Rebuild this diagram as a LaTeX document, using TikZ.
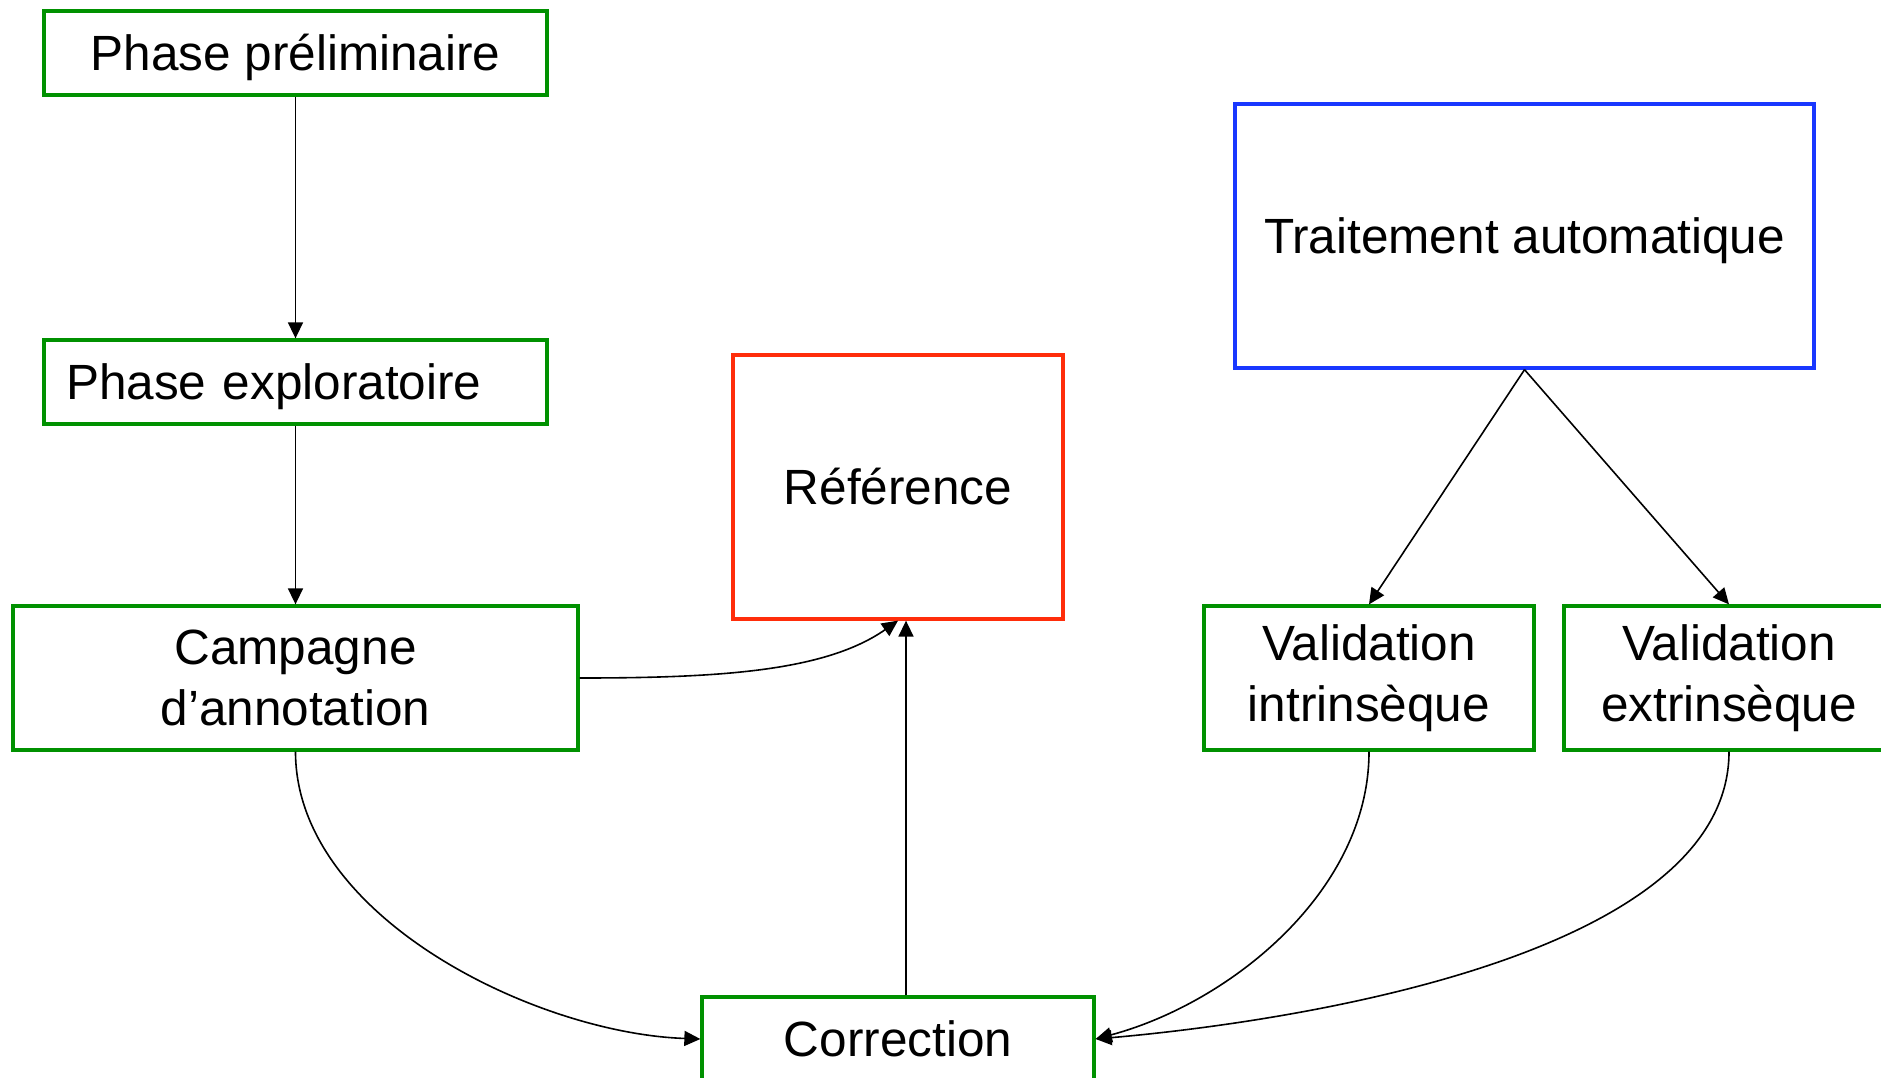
\documentclass[tikz,border=0pt]{standalone}
\usepackage{fontspec}
\setmainfont{Liberation Sans}
\usetikzlibrary{arrows.meta}
\definecolor{stepgreen}{RGB}{0,145,0}
\definecolor{refred}{RGB}{255,45,10}
\definecolor{autoblue}{RGB}{25,55,255}
\begin{document}
\begin{tikzpicture}[x=1pt,y=-1pt,
  box/.style={draw, line width=3.3pt, inner sep=0pt, align=center,
    font=\fontsize{49.5}{61}\selectfont},
  oneline/.style={text height=35.4pt, text depth=0pt},
  greenbox/.style={box, draw=stepgreen},
  conn/.style={line width=1.6pt, -{Triangle[length=16pt,width=15pt]}}
]
\clip (0,0) rectangle (1881,1078);
\fill[white] (0,0) rectangle (1881,1078);

% left column: preparatory phases
\node[greenbox, oneline, minimum width=503pt, minimum height=84pt] (A) at (295.5,53) {Phase préliminaire};
\node[greenbox, oneline, minimum width=503pt, minimum height=84pt, text width=459pt,
      align=left, inner xsep=22pt] (B) at (295.5,382) {Phase exploratoire};
\node[greenbox, minimum width=565pt, minimum height=144pt] (C) at (295.5,678) {Campagne\\d’annotation};

% reference corpus and correction
\node[box, oneline, draw=refred, minimum width=330pt, minimum height=264pt] (D) at (898,487) {Référence};
\node[greenbox, oneline, minimum width=392pt, minimum height=84pt] (H) at (898,1039) {Correction};

% automatic processing and its validations
\node[box, oneline, draw=autoblue, minimum width=579pt, minimum height=264pt] (E) at (1524.5,236) {Traitement automatique};
\node[greenbox, minimum width=330pt, minimum height=144pt] (F) at (1369,678) {Validation\\intrinsèque};
\node[greenbox, minimum width=330pt, minimum height=144pt] (G) at (1729,678) {Validation\\extrinsèque};

% connectors
\draw[conn] (A) -- (B);
\draw[conn] (B) -- (C);
\draw[conn] (C.east) to[out=0,in=-145,out looseness=1.1,in looseness=0.7] (D.south);
\draw[conn] ([xshift=8pt]H.north) -- ([xshift=8pt]D.south);
\draw[conn] (C.south) to[out=-90,in=178,looseness=0.85] (H.west);
\draw[conn] (F.south) to[out=-90,in=15,looseness=0.9] (H.east);
\draw[conn] (G.south) to[out=-90,in=5,looseness=0.75] (H.east);
\draw[conn] (E.south) -- (F.north);
\draw[conn] (E.south) -- (G.north);
\end{tikzpicture}
\end{document}
